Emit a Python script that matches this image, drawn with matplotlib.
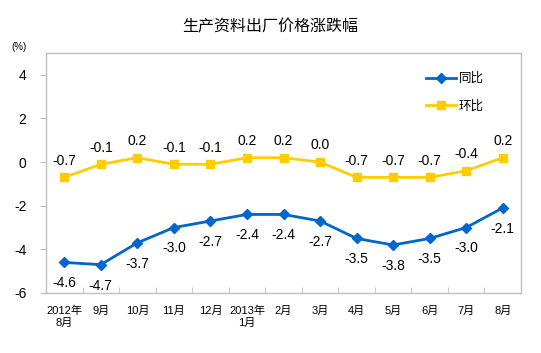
import matplotlib
matplotlib.use("Agg")
import matplotlib.pyplot as plt
import numpy as np

categories = ["2012年\n8月", "9月", "10月", "11月", "12月", "2013年\n1月", "2月", "3月", "4月", "5月", "6月", "7月", "8月"]
yoy = [-4.6, -4.7, -3.7, -3.0, -2.7, -2.4, -2.4, -2.7, -3.5, -3.8, -3.5, -3.0, -2.1]
mom = [-0.7, -0.1, 0.2, -0.1, -0.1, 0.2, 0.2, 0.0, -0.7, -0.7, -0.7, -0.4, 0.2]
yticks = [-6, -4, -2, 0, 2, 4]

fam = ["Liberation Sans", "Noto Sans CJK SC", "DejaVu Sans"]
plt.rcParams["font.family"] = fam

fig = plt.figure(figsize=(5.41, 3.53), dpi=100)
ax = fig.add_axes([46/541, 60/353, 475/541, 240/353])
x = np.arange(len(categories))
blue = "#0066CC"
yellow = "#FFCC00"
ax.plot(x, yoy, color=blue, lw=2, marker="D", ms=5, label="同比")
ax.plot(x, mom, color=yellow, lw=2, marker="s", ms=6, label="环比")
for xi, v in zip(x, yoy):
    ax.annotate(f"{v:.1f}", (xi, v), xytext=(0, -10), textcoords="offset points",
                ha="center", va="top", fontsize=10)
for xi, v in zip(x, mom):
    ax.annotate(f"{v:.1f}", (xi, v), xytext=(0, 7), textcoords="offset points",
                ha="center", va="bottom", fontsize=10)

ax.set_xlim(-0.5, len(categories) - 0.5)
ax.set_ylim(-6, 5)
ax.set_yticks(yticks)
ax.set_yticklabels([str(t) for t in yticks], fontsize=10)
ax.set_xticks(x)
ax.set_xticklabels(categories, fontsize=8, linespacing=1.3)
ax.tick_params(axis="x", length=0, pad=9)
ax.set_xticks(np.arange(-0.5, len(categories), 1.0), minor=True)
ax.tick_params(axis="x", which="minor", direction="in", length=4, color="#BFBFBF")
ax.tick_params(axis="y", direction="out", length=4, color="#BFBFBF", pad=10)
for s in ax.spines.values():
    s.set_color("#BFBFBF")
    s.set_linewidth(1)

ax.legend(loc="upper right", bbox_to_anchor=(0.945, 0.965), frameon=False,
          fontsize=9, handlelength=2.4, labelspacing=1.2, handletextpad=0.2)

fig.text(0.5, 0.925, "生产资料出厂价格涨跌幅", ha="center", va="center", fontsize=11.5)
fig.text(0.035, 0.868, "(%)", ha="center", va="center", fontsize=7)

fig.savefig("out.png", dpi=100)
